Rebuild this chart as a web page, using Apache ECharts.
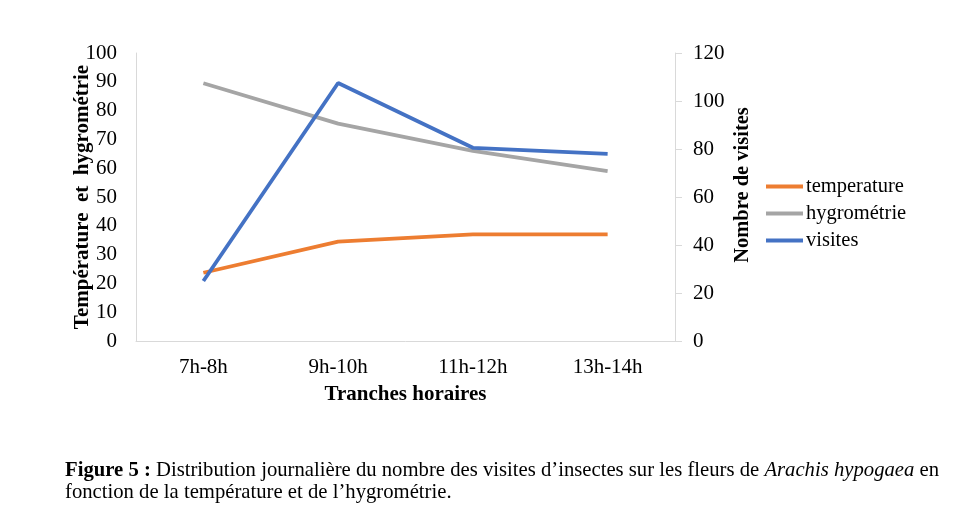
<!DOCTYPE html>
<html>
<head>
<meta charset="utf-8">
<title>Figure 5</title>
<script type="text/javascript" src="https://cdn.jsdelivr.net/npm/echarts@6/dist/echarts.min.js"></script>
<style>
	html, body { margin: 0; padding: 0; background: #fff; }
	#container { width: 972px; height: 529px; }
</style>
</head>
<body>
	<div id="container"></div>
	<script type="text/javascript">
	// donnees
	var tranches = ['7h-8h', '9h-10h', '11h-12h', '13h-14h'];
	var temperature = [23.7, 34.5, 37, 37];
	var hygrometrie = [89.5, 75.5, 66, 59];
	var visites = [25, 107.5, 80.5, 78];

	var serif = 'Liberation Serif';
	var dom = document.getElementById("container");
	var myChart = echarts.init(dom);
	var lineIcon = 'path://M0,0 L37,0 L37,4 L0,4 Z';

	var option = {
		backgroundColor: '#fff',
		animation: false,
		textStyle: { fontFamily: serif, color: '#000' },
		grid: { left: 136, right: 297, top: 53, bottom: 188 },
		legend: {
			orient: 'vertical',
			left: 766,
			top: 176,
			padding: 0,
			itemWidth: 37,
			itemHeight: 4,
			itemGap: 6,
			textStyle: { fontFamily: serif, fontSize: 20.5, color: '#000', padding: [0, 0, 0, -2] },
			data: [
				{ name: 'temperature', icon: lineIcon, itemStyle: { color: '#ED7D31' } },
				{ name: 'hygrométrie', icon: lineIcon, itemStyle: { color: '#A5A5A5' } },
				{ name: 'visites', icon: lineIcon, itemStyle: { color: '#4472C4' } }
			]
		},
		xAxis: {
			type: 'category',
			data: tranches,
			boundaryGap: true,
			name: 'Tranches horaires',
			nameLocation: 'middle',
			nameGap: 43,
			nameMoveOverlap: false,
			nameTextStyle: { fontFamily: serif, fontSize: 21, fontWeight: 'bold', color: '#000' },
			axisLine: { lineStyle: { color: '#d9d9d9', width: 1 } },
			axisTick: { show: false },
			axisLabel: { fontFamily: serif, fontSize: 21, color: '#000', margin: 16 }
		},
		yAxis: [
			{
				type: 'value',
				min: 0, max: 100, interval: 10,
				name: 'Température  et  hygrométrie',
				nameLocation: 'middle',
				nameRotate: 90,
				nameGap: 43,
				nameMoveOverlap: false,
				nameTextStyle: { fontFamily: serif, fontSize: 21, fontWeight: 'bold', color: '#000' },
				axisLine: { show: true, lineStyle: { color: '#d9d9d9' } },
				axisTick: { show: false },
				splitLine: { show: false },
				axisLabel: { fontFamily: serif, fontSize: 21, color: '#000', margin: 19 }
			},
			{
				type: 'value',
				position: 'right',
				min: 0, max: 120, interval: 20,
				name: 'Nombre de visites',
				nameLocation: 'middle',
				nameRotate: 90,
				nameGap: 57,
				nameMoveOverlap: false,
				nameTextStyle: { fontFamily: serif, fontSize: 20.5, fontWeight: 'bold', color: '#000', padding: [0, 0, 0, 24] },
				axisLine: { show: true, lineStyle: { color: '#d9d9d9' } },
				axisTick: { show: true, length: 7, inside: false, lineStyle: { color: '#d9d9d9' } },
				splitLine: { show: false },
				axisLabel: { fontFamily: serif, fontSize: 21, color: '#000', margin: 18 }
			}
		],
		series: [
			{
				name: 'temperature', type: 'line', yAxisIndex: 0,
				data: temperature, symbol: 'none',
				lineStyle: { color: '#ED7D31', width: 3.8 }, itemStyle: { color: '#ED7D31' }
			},
			{
				name: 'hygrométrie', type: 'line', yAxisIndex: 0,
				data: hygrometrie, symbol: 'none',
				lineStyle: { color: '#A5A5A5', width: 3.8 }, itemStyle: { color: '#A5A5A5' }
			},
			{
				name: 'visites', type: 'line', yAxisIndex: 1,
				data: visites, symbol: 'none',
				lineStyle: { color: '#4472C4', width: 3.8 }, itemStyle: { color: '#4472C4' }
			}
		],
		graphic: [
			{
				type: 'text', left: 65, top: 460,
				style: {
					text: '{b|Figure 5 :} Distribution journalière du nombre des visites d\u2019insectes sur les fleurs de {i|Arachis hypogaea} en\nfonction de la température et de l\u2019hygrométrie.',
					font: '20.7px "Liberation Serif"',
					fill: '#000',
					lineHeight: 22,
					rich: {
						b: { fontFamily: serif, fontSize: 20.7, fontWeight: 'bold', lineHeight: 22 },
						i: { fontFamily: serif, fontSize: 20.7, fontStyle: 'italic', lineHeight: 22 }
					}
				}
			}
		]
	};

	myChart.setOption(option, true);
	</script>
</body>
</html>
